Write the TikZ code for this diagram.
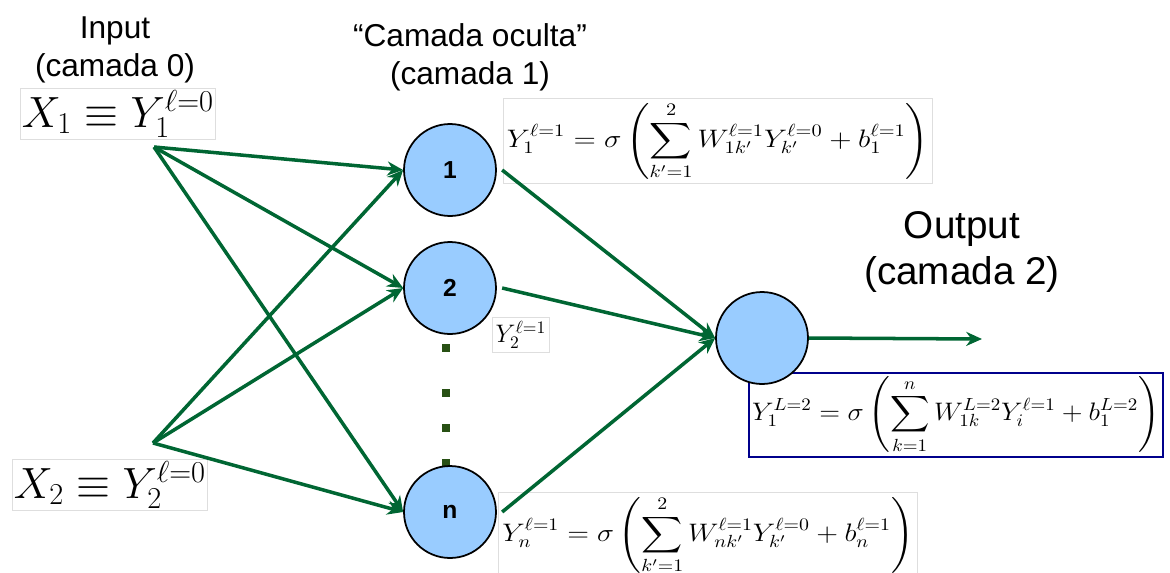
\documentclass[tikz,border=0pt]{standalone}
\usepackage{amsmath}
\usepackage{fontspec}
\setsansfont{Liberation Sans}
\usetikzlibrary{arrows.meta}
\definecolor{arrgreen}{RGB}{0,102,51}
\definecolor{dotgreen}{RGB}{40,80,20}
\definecolor{nfill}{RGB}{153,204,255}
\definecolor{boxgray}{RGB}{222,222,222}
\definecolor{navy}{RGB}{0,0,140}

\begin{document}
\begin{tikzpicture}[x=0.02cm,y=-0.02cm,
  lbl/.style={font=\sffamily\fontsize{18}{21.5}\selectfont,align=center},
  neuron/.style={circle,draw,line width=1pt,fill=nfill,minimum size=1.84cm,inner sep=0pt,font=\sffamily\bfseries\fontsize{14}{16}\selectfont},
  eqbox/.style={draw=boxgray,fill=white,inner sep=2pt,font=\fontsize{14}{17}\selectfont},
  xbox/.style={draw=boxgray,fill=white,inner sep=1pt,font=\fontsize{25}{30}\selectfont},
  syn/.style={draw=arrgreen,line width=2pt,-{Stealth[length=9pt,width=8pt]}}]
\useasboundingbox (0,0) rectangle (1170,572);
% layer labels
\node[lbl] (inlbl) at (115,50) {Input\\(camada 0)};
\node[lbl] (hidlbl) at (470,57) {“Camada oculta”\\(camada 1)};
\node[lbl,font=\sffamily\fontsize{22}{26}\selectfont] (outlbl) at (962,252) {Output\\(camada 2)};
% inputs
\node[xbox] (x1) at (118,114) {$X_1 \equiv Y_1^{\ell=0}$};
\node[xbox] (x2) at (110,485) {$X_2 \equiv Y_2^{\ell=0}$};
\coordinate (s1) at (154,147);
\coordinate (s2) at (153,443);
% formulas
\node[eqbox] (eq1) at (718,141) {\scalebox{1.16}[1]{$\displaystyle Y_1^{\ell=1} = \sigma\left(\sum_{k'=1}^{2} W_{1k'}^{\ell=1}Y_{k'}^{\ell=0} + b_1^{\ell=1}\right)$}};
\node[eqbox] (eq2) at (521,335) {$Y_2^{\ell=1}$};
\node[eqbox,anchor=north] (eqn) at (708,492) {\scalebox{1.13}[1]{$\displaystyle Y_n^{\ell=1} = \sigma\left(\sum_{k'=1}^{2} W_{nk'}^{\ell=1}Y_{k'}^{\ell=0} + b_n^{\ell=1}\right)$}};
\node[eqbox,draw=navy,line width=1.2pt] (eqo) at (956,415) {\scalebox{1.08}[1]{$\displaystyle Y_1^{L=2} = \sigma\left(\sum_{k=1}^{n} W_{1k}^{L=2}Y_i^{\ell=1} + b_1^{L=2}\right)$}};
% dots between 2 and n
\foreach \y in {348,393,428,463}
  \fill[dotgreen] (446,\y) +(-4,-4) rectangle +(4,4);
% neurons
\node[neuron] (h1) at (450,170) {1};
\node[neuron] (h2) at (450,288) {2};
\node[neuron] (hn) at (450,512) {n};
\node[neuron] (out) at (762,338) {};
\coordinate (yend) at (982,339);
% connections
\foreach \s in {s1,s2}
  \foreach \h in {h1,h2,hn}
    \draw[syn] (\s) -- (\h.west);
\foreach \h in {h1,h2,hn}
  \draw[syn] ([xshift=3pt]\h.east) -- (out.west);
\draw[syn] (out.east) -- (yend);
\end{tikzpicture}
\end{document}
